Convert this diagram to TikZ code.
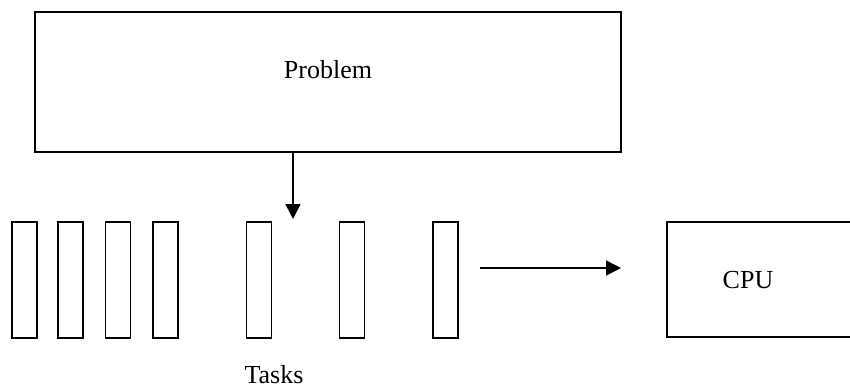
\documentclass[tikz,border=0pt]{standalone}
\usepackage{fontspec}
\setmainfont{Liberation Serif}
\usetikzlibrary{arrows.meta}
\begin{document}
\begin{tikzpicture}[x=1pt,y=-1pt,
  box/.style={draw,line width=1.7pt,inner sep=0pt,outer sep=0pt},
  task/.style={box,minimum width=25pt,minimum height=116pt},
  lbl/.style={anchor=base,inner sep=0pt,font=\fontsize{26}{30}\selectfont},
  arr/.style={line width=1.6pt,-{Triangle[length=15pt,width=15pt]}}]
\useasboundingbox (0,0) rectangle (850,389);
\node[box,minimum width=586pt,minimum height=140pt] (prob) at (328,82) {};
\node[lbl] (probtxt) at (328,78) {Problem};
\foreach \i/\x in {1/24.5,2/70.5,3/118,4/165.5,5/259,6/352,7/445.5}
  \node[task] (t\i) at (\x,280) {};
\node[lbl] (tasks) at (274,383) {Tasks};
\node[box,minimum width=200pt,minimum height=115pt] (cpu) at (767,279.5) {};
\node[lbl] (cputxt) at (748,288) {CPU};
\coordinate (a1) at (293,219);
\draw[arr] (prob.south -| a1) -- (a1);
\coordinate (h1) at (480,268);
\coordinate (h2) at (621,268);
\draw[arr] (h1) -- (h2);
\end{tikzpicture}
\end{document}
